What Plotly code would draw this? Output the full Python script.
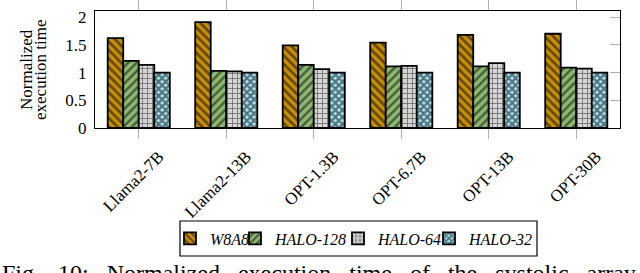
import plotly.graph_objects as go

categories = ["Llama2-7B", "Llama2-13B", "OPT-1.3B", "OPT-6.7B", "OPT-13B", "OPT-30B"]
series_names = ["W8A8", "HALO-128", "HALO-64", "HALO-32"]
w8a8 = [1.62, 1.91, 1.49, 1.54, 1.68, 1.70]
halo128 = [1.21, 1.03, 1.14, 1.11, 1.11, 1.09]
halo64 = [1.14, 1.02, 1.06, 1.12, 1.17, 1.07]
halo32 = [1.00, 1.00, 1.00, 1.00, 1.00, 1.00]
y_ticks = [0, 0.5, 1, 1.5, 2]
y_ticktext = ["0", "0.5", "1", "1.5", "2"]
caption = "Fig. 10: Normalized execution time of the systolic array"

series_values = [w8a8, halo128, halo64, halo32]
colors = ["#C8900A", "#8DB870", "#D6D6D6", "#A6E2F0"]
shapes = ["\\", "/", "+", "x"]
solid = [0.45, 0.4, 0.3, 0.65]
sizes = [6, 6, 5, 5]
legend_ids = ["legend", "legend2", "legend3", "legend4"]
legend_px = [170, 235, 338, 429]

FONT = "Liberation Serif"
fig = go.Figure()
for name, vals, col, shp, so, sz, lg in zip(series_names, series_values, colors, shapes,
                                             solid, sizes, legend_ids):
    fig.add_trace(go.Bar(
        x=categories, y=vals, name=name, legend=lg,
        marker=dict(color=col, line=dict(color="black", width=1.8),
                    pattern=dict(shape=shp, fgcolor="black", fillmode="overlay",
                                 size=sz, solidity=so)),
    ))

legend_common = dict(orientation="h", y=-0.944, yanchor="middle", xanchor="left",
                     bgcolor="rgba(0,0,0,0)", borderwidth=0,
                     font=dict(family=FONT, size=16, style="italic"))

layout_legends = {lg: dict(x=(px - 95) / 525, **legend_common)
                  for lg, px in zip(legend_ids, legend_px)}

fig.update_layout(
    width=640, height=273,
    margin=dict(l=95, r=20, t=11, b=145, autoexpand=False),
    paper_bgcolor="white", plot_bgcolor="white",
    barmode="group", bargap=0.29, bargroupgap=0,
    font=dict(family=FONT, size=17, color="black"),
    showlegend=True,
    **layout_legends,
    xaxis=dict(showline=True, linecolor="black", linewidth=1.2, mirror="ticks",
               ticks="outside", ticklen=10, tickcolor="#B0B0B0", tickwidth=1,
               tickangle=-45, tickfont=dict(family=FONT, size=17), showgrid=False,
               ticklabelshift=20, ticklabelstandoff=1),
    yaxis=dict(range=[0, 2.11], tickvals=y_ticks, ticktext=y_ticktext,
               showline=True, linecolor="black", linewidth=1.2, mirror=True,
               ticks="", showgrid=False, zeroline=False,
               tickfont=dict(family=FONT, size=17), ticklabelstandoff=4),
    yaxis2=dict(range=[0, 2.11], overlaying="y", side="right", tickvals=y_ticks,
                ticks="inside", ticklen=10, tickcolor="#B0B0B0", showticklabels=False,
                showgrid=False, zeroline=False, showline=False),
)
fig.add_trace(go.Scatter(x=[categories[0]], y=[0], yaxis="y2", mode="markers",
                         marker=dict(opacity=0), showlegend=False, hoverinfo="skip"))

# y-axis title as two rotated lines
fig.add_annotation(text="Normalized", xref="paper", yref="paper",
                   x=(26 - 95) / 525, y=(128 - 70) / 117, textangle=-90,
                   xanchor="center", yanchor="middle",
                   showarrow=False, font=dict(family=FONT, size=17))
fig.add_annotation(text="execution time", xref="paper", yref="paper",
                   x=(40 - 95) / 525, y=(128 - 70) / 117, textangle=-90,
                   xanchor="center", yanchor="middle",
                   showarrow=False, font=dict(family=FONT, size=17))

# legend frame
fig.add_shape(type="rect", xref="paper", yref="paper",
              x0=(180 - 95) / 525, x1=(537 - 95) / 525,
              y0=(128 - 256) / 117, y1=(128 - 221) / 117,
              line=dict(color="black", width=1.2), fillcolor="rgba(0,0,0,0)")

fig.add_annotation(text=caption.replace(" ", "&nbsp;&nbsp;&nbsp;"),
                   xref="paper", yref="paper", x=(0 - 95) / 525, y=(128 - 258) / 117,
                   xanchor="left", yanchor="top",
                   showarrow=False, font=dict(family=FONT, size=24))

fig.write_html("out.html", config={"displayModeBar": False},
               post_script="document.body.style.margin='0';document.body.style.overflow='hidden';")
